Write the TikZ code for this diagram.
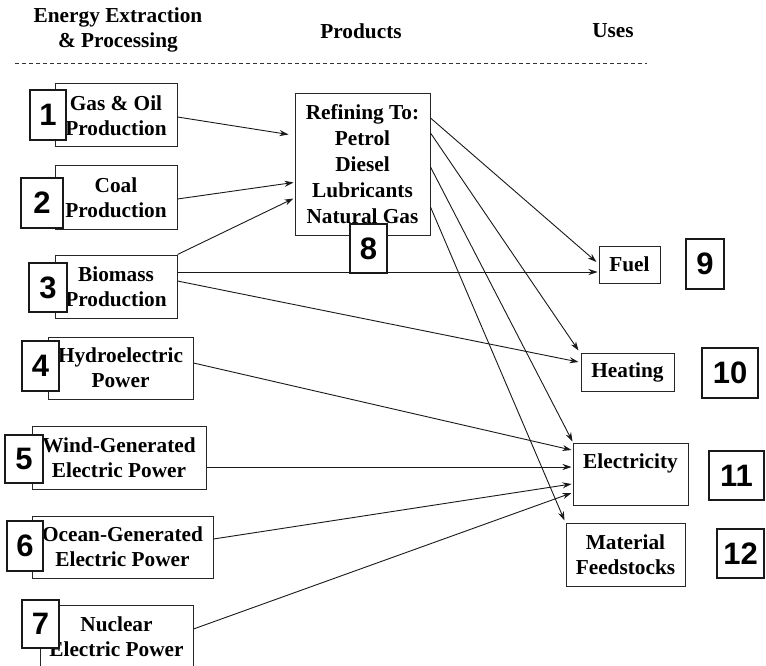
\documentclass[tikz,border=0pt]{standalone}
\usepackage{fontspec}
\setmainfont{Liberation Serif}
\newfontfamily\numfont{Liberation Sans}
\usetikzlibrary{arrows.meta,calc}
\begin{document}
\begin{tikzpicture}[x=1pt,y=-1pt,
  box/.style={draw=black!85, line width=1pt, fill=white, inner sep=0pt, align=center, font=\fontsize{21.3}{25}\selectfont\bfseries},
  numbox/.style={draw=black!90, line width=2.6pt, fill=white, inner sep=0pt, font=\fontsize{31}{31}\selectfont\numfont\bfseries},
  hdr/.style={font=\fontsize{21.3}{25}\selectfont\bfseries, inner sep=0pt, align=center},
  arr/.style={draw=black!90, line width=0.9pt, -{Stealth[length=9pt,width=6pt]}},
  sep/.style={draw=black!80, line width=0.8pt, dash pattern=on 4pt off 3pt}
]
\clip (0,0) rectangle (766,666);
\fill[white] (0,0) rectangle (766,666);

% headers
\node[hdr] (h1) at (118,29.5) {Energy Extraction\\\& Processing};
\node[hdr] (h2) at (361,31) {Products};
\node[hdr] (h3) at (613,31) {Uses};
\coordinate (sl) at (15,63);
\coordinate (sr) at (647,63);
\draw[sep] (sl) -- (sr);

% source boxes
\node[box, minimum width=122pt, minimum height=63pt] (b1) at (116,115.5) {Gas \& Oil\\Production};
\node[box, minimum width=122pt, minimum height=63pt] (b2) at (116,197.5) {Coal\\Production};
\node[box, minimum width=122pt, minimum height=63pt] (b3) at (116,286.5) {Biomass\\Production};
\node[box, minimum width=145pt, minimum height=62pt] (b4) at (120.5,368) {Hydroelectric\\Power};
\node[box, minimum width=174pt, minimum height=63pt] (b5) at (119,457.5) {Wind-Generated\\Electric Power};
\node[box, minimum width=181pt, minimum height=62pt] (b6) at (122.5,547) {Ocean-Generated\\Electric Power};
\node[box, minimum width=153pt, minimum height=63pt] (b7) at (116.5,636.5) {Nuclear\\Electric Power};

% product box
\node[box, minimum width=135pt, minimum height=141pt, font=\fontsize{21.3}{26}\selectfont\bfseries] (ref) at (362.5,164.5) {Refining To:\\Petrol\\Diesel\\Lubricants\\Natural Gas};

% use boxes
\node[box, minimum width=61pt, minimum height=37pt] (fuel) at (629.5,264.5) {Fuel};
\node[box, minimum width=93pt, minimum height=38pt] (heat) at (627.5,372) {Heating};
\node[box, minimum width=115pt, minimum height=62pt] (elec) at (630.5,474) {Electricity\\[0pt]\mbox{}};
\node[box, minimum width=119pt, minimum height=63pt] (mat) at (625.5,554.5) {Material\\Feedstocks};

% connectors into refining
\draw[arr] (b1.east) ++(0,1.5) -- ($(ref.north west)+(-6,41)$);
\draw[arr] (b2.east) ++(0,1.5) -- ($(ref.north west)+(-1,89)$);
\draw[arr] (b3.north east) -- ($(ref.north west)+(-1,105)$);

% biomass
\draw[arr] ($(b3.east)+(0,-14.5)$) -- ($(fuel.west)+(-1,7.5)$);
\draw[arr] ($(b3.east)+(0,-5.5)$) -- ($(heat.west)+(-2,-10)$);

% electric sources
\draw[arr] ($(b4.east)+(0,-5)$) -- ($(elec.west)+(-1,-24)$);
\draw[arr] ($(b5.east)+(0,9.5)$) -- ($(elec.west)+(-1,-7)$);
\draw[arr] ($(b6.east)+(0,-8)$) -- ($(elec.west)+(-1,10)$);
\draw[arr] ($(b7.east)+(0,-7.5)$) -- ($(elec.west)+(-1,19)$);

% from refining
\draw[arr] ($(ref.east)+(0,-46.5)$) -- ($(fuel.west)+(-2,-2.5)$);
\draw[arr] ($(ref.east)+(0,-31.5)$) -- ($(heat.north west)+(-2,-2)$);
\draw[arr] ($(ref.east)+(0,2.5)$) -- ($(elec.north west)+(0,-1)$);
\draw[arr] ($(ref.east)+(0,42.5)$) -- ($(mat.north west)+(-1,-2)$);

% number boxes
\node[numbox, minimum width=36pt, minimum height=50pt] (n1) at (48,115) {1};
\node[numbox, minimum width=42pt, minimum height=50pt] (n2) at (42,203) {2};
\node[numbox, minimum width=38pt, minimum height=49pt] (n3) at (48,287.5) {3};
\node[numbox, minimum width=37pt, minimum height=50pt] (n4) at (40.5,366) {4};
\node[numbox, minimum width=38pt, minimum height=48pt] (n5) at (24,459) {5};
\node[numbox, minimum width=36pt, minimum height=50pt] (n6) at (25,546) {6};
\node[numbox, minimum width=37pt, minimum height=48pt] (n7) at (40.5,624) {7};
\node[numbox, minimum width=37pt, minimum height=49pt] (n8) at (368.5,248.5) {8};
\node[numbox, minimum width=38pt, minimum height=50pt] (n9) at (705,264) {9};
\node[numbox, minimum width=56pt, minimum height=50pt] (n10) at (730,373) {10};
\node[numbox, minimum width=55pt, minimum height=49pt] (n11) at (736.5,475.5) {11};
\node[numbox, minimum width=47pt, minimum height=49pt] (n12) at (740.5,553.5) {12};
\end{tikzpicture}
\end{document}
